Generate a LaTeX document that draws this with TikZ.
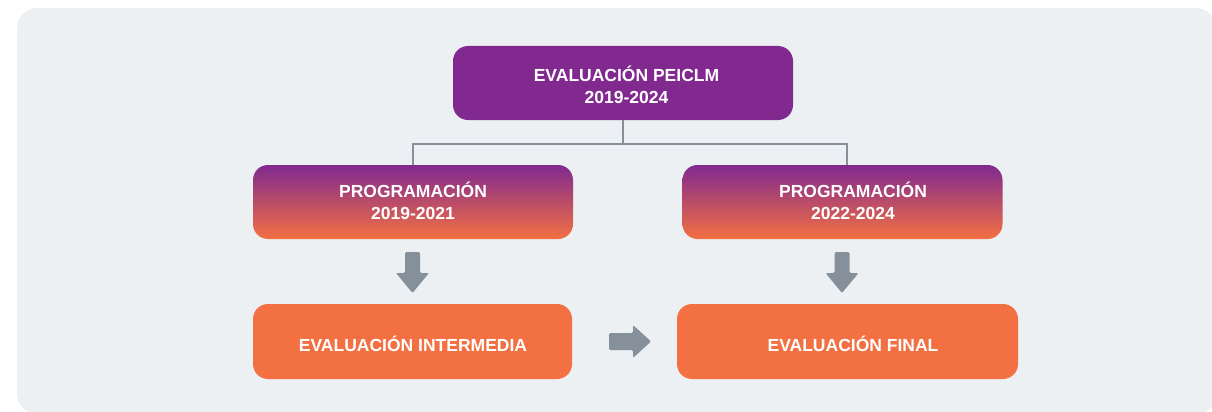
\documentclass[tikz,border=0pt]{standalone}
\usepackage{fontspec}
\setmainfont{Liberation Sans}
\usetikzlibrary{calc}
\definecolor{bgc}{HTML}{ECF0F3}
\definecolor{purp}{HTML}{81298F}
\definecolor{oran}{HTML}{F37042}
\definecolor{gry}{HTML}{86909A}
\begin{document}
\begin{tikzpicture}[x=1pt,y=-1pt,
  box/.style={rounded corners=15pt, minimum width=#1, minimum height=74pt, inner sep=0pt, draw=none},
  txt/.style={text=white, font=\bfseries\fontsize{17.5}{22}\selectfont, align=center, inner sep=0pt},
  conn/.style={draw=gry, line width=2.6pt},
  blockarrow/.style={fill=gry, rounded corners=1.3pt},
  downarr/.pic={\path[blockarrow] (-7.5,-20.5) -- (7.5,-20.5) -- (7.5,0.5) -- (16.5,0.5) -- (0,20.5) -- (-16.5,0.5) -- (-7.5,0.5) -- cycle;},
  rightarr/.pic={\path[blockarrow] (-21,-8.5) -- (3,-8.5) -- (3,-16.5) -- (21,0) -- (3,16.5) -- (3,8.5) -- (-21,8.5) -- cycle;}
]
\useasboundingbox (0,0) rectangle (1212,412);
\begin{scope}
\clip (0,0) rectangle (1212,412);
\fill[bgc, rounded corners=20pt] (17,8) rectangle (1216,414);
\end{scope}

% top box
\node[box=340pt, fill=purp] (top) at (623,83) {};
\node[txt, anchor=base] (toptxt) at (626.5,103) {EVALUACIÓN PEICLM\\2019-2024};

% programming boxes
\node[box=320pt, top color=purp, bottom color=oran] (p1) at (413,202) {};
\node[txt, anchor=base] (p1txt) at (413,219) {PROGRAMACIÓN\\2019-2021};
\node[box=320pt, top color=purp, bottom color=oran] (p2) at (842.5,202) {};
\node[txt, anchor=base] (p2txt) at (853,219) {PROGRAMACIÓN\\2022-2024};

% evaluation boxes
\node[box=319pt, minimum height=75pt, fill=oran] (e1) at (412.5,341.5) {};
\node[txt, anchor=base] (e1txt) at (413,351) {EVALUACIÓN INTERMEDIA};
\node[box=341pt, minimum height=75pt, fill=oran] (e2) at (847.5,341.5) {};
\node[txt, anchor=base] (e2txt) at (853,351) {EVALUACIÓN FINAL};

% connectors
\coordinate (j) at (623,144);
\coordinate (jl) at (413,144);
\coordinate (jr) at (847,144);
\draw[conn] (top.south) -- (j);
\draw[conn, line join=miter] (jl |- p1.north) -- (jl) -- (jr) -- (jr |- p2.north);

% block arrows
\pic at (412.5,272.5) {downarr};
\pic at (842,272.5) {downarr};
\pic at (630,341.5) {rightarr};
\end{tikzpicture}
\end{document}
